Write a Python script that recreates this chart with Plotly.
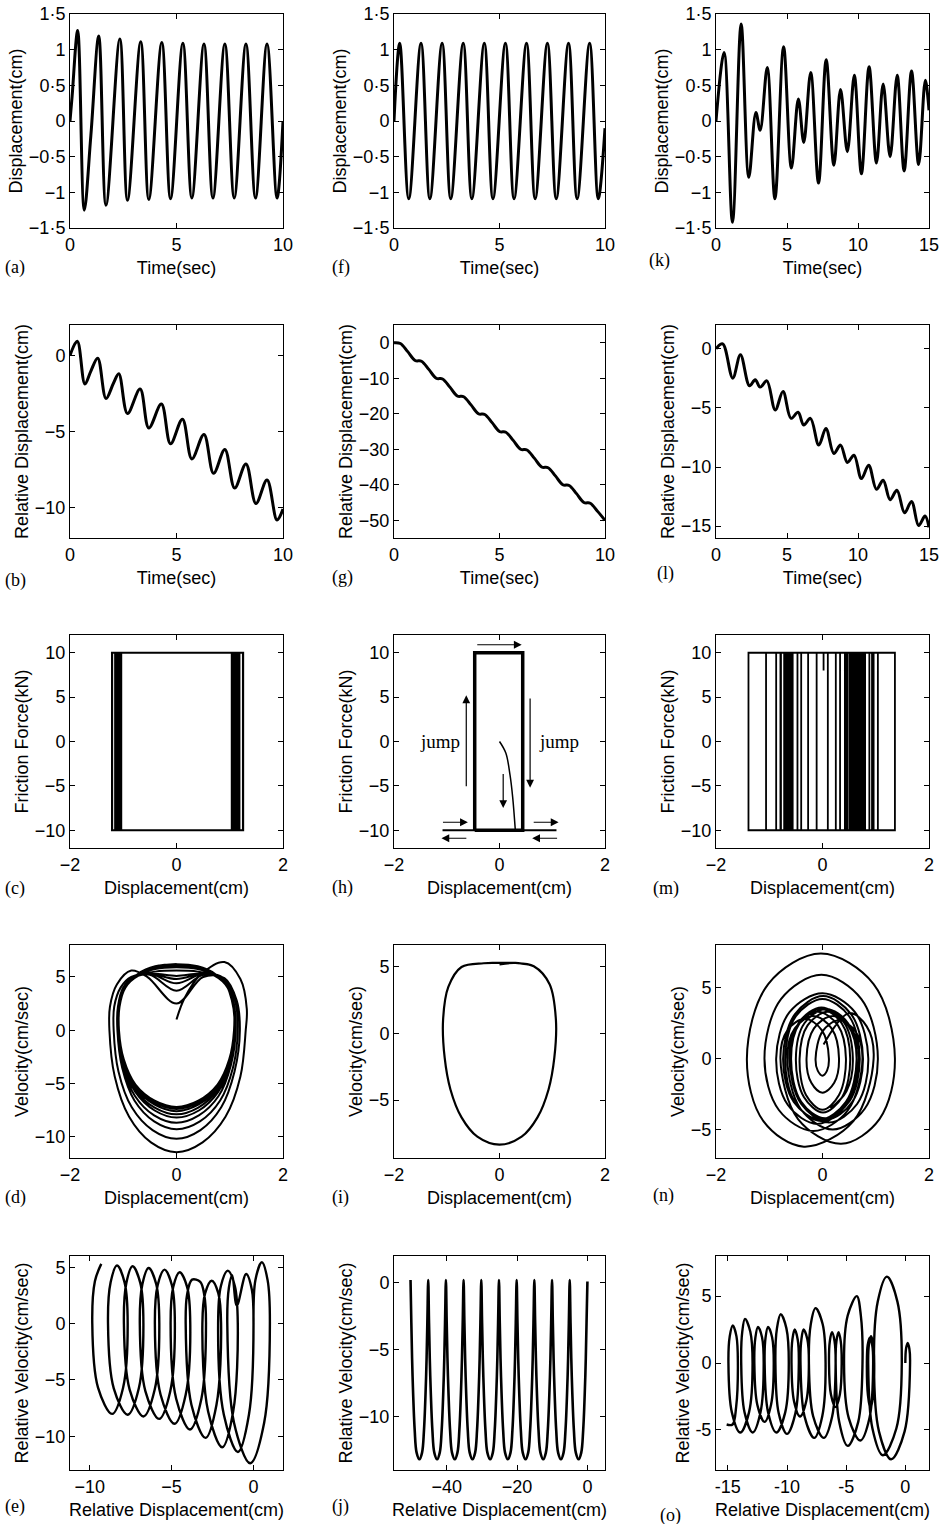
import plotly.graph_objects as go

W, H = 944, 1524
SANS = "Liberation Sans, Arial, Helvetica, sans-serif"
SERIF = "Liberation Serif, Times New Roman, serif"
FS = 18

# ---------------- data ----------------
# (a) displacement vs time (turning points)
a_t = [0, 0.1, 0.36, 0.67, 0.98, 1.35, 1.69, 2.34, 2.70, 3.32, 3.70, 4.31, 4.72, 5.30, 5.72,
       6.29, 6.71, 7.27, 7.71, 8.26, 8.71, 9.25, 9.72, 10.0]
a_x = [0, 0.35, 1.27, -1.25, -0.2, 1.19, -1.18, 1.15, -1.11, 1.11, -1.10, 1.10, -1.09, 1.09, -1.08,
       1.08, -1.08, 1.08, -1.08, 1.08, -1.08, 1.08, -1.08, 0.0]
# (f)
f_t = [0, 0.27, 0.70, 1.28, 1.70, 2.28, 2.69, 3.28, 3.69, 4.28, 4.69, 5.28, 5.69, 6.28, 6.69,
       7.27, 7.69, 8.27, 8.68, 9.27, 9.68, 10.0]
f_x = [0, 1.09, -1.09, 1.09, -1.09, 1.09, -1.09, 1.09, -1.09, 1.09, -1.09, 1.09, -1.09, 1.09, -1.09,
       1.09, -1.09, 1.09, -1.09, 1.09, -1.09, -0.1]
# (k)
k_t = [0, 0.57, 1.16, 1.77, 2.31, 2.81, 3.11, 3.61, 4.15, 4.76, 5.31, 5.80, 6.18, 6.67, 7.22, 7.76,
       8.30, 8.77, 9.25, 9.74, 10.24, 10.78, 11.30, 11.77, 12.26, 12.76, 13.25, 13.77, 14.27, 14.74, 15.0]
k_x = [0, 0.96, -1.42, 1.36, -0.79, 0.12, -0.13, 0.75, -1.09, 1.04, -0.66, 0.31, -0.30, 0.68, -0.87, 0.86,
       -0.62, 0.44, -0.43, 0.64, -0.74, 0.76, -0.59, 0.52, -0.50, 0.64, -0.70, 0.70, -0.61, 0.57, 0.15]
# (b) relative displacement
b_t = [0, 0.34, 0.70, 0.97, 1.30, 1.69, 2.04, 2.29, 2.70, 3.29, 3.70, 4.29, 4.72, 5.28, 5.72, 6.29,
       6.74, 7.27, 7.73, 8.26, 8.73, 9.25, 9.72, 10.0]
b_y = [0, 0.93, -1.88, -1.06, -0.18, -2.83, -1.83, -1.21, -3.82, -2.21, -4.77, -3.20, -5.81, -4.19,
       -6.80, -5.19, -7.75, -6.18, -8.72, -7.13, -9.73, -8.19, -10.82, -10.1]
# (g)
g_t = [0, 0.3, 0.65, 1.0, 1.3, 1.65, 2.0, 2.3, 2.65, 3.0, 3.3, 3.65, 4.0, 4.3, 4.65, 5.0, 5.3, 5.65,
       6.0, 6.3, 6.65, 7.0, 7.3, 7.65, 8.0, 8.3, 8.65, 9.0, 9.3, 9.65, 10.0]
g_y = [0, -0.2, -2.5, -5.0, -5.2, -7.5, -10.0, -10.2, -12.5, -15.0, -15.2, -17.5, -20.0, -20.2, -22.5,
       -25.0, -25.2, -27.5, -30.0, -30.2, -32.5, -35.0, -35.2, -37.5, -40.0, -40.2, -42.5, -45.0,
       -45.2, -47.5, -50.0]
# (l)
l_t = [0, 0.47, 1.18, 1.72, 2.36, 2.76, 3.11, 3.58, 4.17, 4.72, 5.28, 5.78, 6.18, 6.65, 7.24, 7.74,
       8.30, 8.77, 9.25, 9.72, 10.24, 10.75, 11.30, 11.77, 12.26, 12.74, 13.28, 13.77, 14.27, 14.72, 15.0]
l_y = [0, 0.40, -2.49, -0.51, -3.14, -2.63, -3.25, -2.72, -5.18, -3.62, -5.89, -5.38, -6.45, -5.89,
       -8.15, -6.74, -8.86, -8.15, -9.62, -9.00, -10.98, -9.85, -11.89, -11.12, -12.76, -11.97,
       -13.87, -12.91, -14.95, -14.15, -15.1]

# (c) friction force: displacement turning points
c_right = [1.25, 1.18, 1.14, 1.11, 1.09, 1.07, 1.06, 1.05, 1.05, 1.04]
c_left = [-1.21, -1.15, -1.11, -1.09, -1.07, -1.06, -1.05, -1.05, -1.04, -1.04]
c_force = [10, -10]
# (h)
h_rect_x = [-0.47, -0.47, 0.44, 0.44, -0.47]
h_rect_y = [-10, 10, 10, -10, -10]
h_base_x = [-1.08, 1.08]
h_base_y = [-10, -10]
h_init_x = [0.0, 0.12, 0.2, 0.25, 0.3]
h_init_y = [0.0, -1.3, -3.8, -6.3, -10.0]
# (m)
m_turns = [0.96, -1.39, 1.36, -0.79, 0.10, -0.11, 0.75, -1.06, 1.04, -0.66, 0.33, -0.27, 0.66, -0.87,
           0.88, -0.60, 0.47, -0.47, 0.60, -0.72, 0.80, -0.56, 0.54, -0.40, 0.72, -0.65, 0.93, -0.78,
           0.42, -0.62, 0.69, -0.70, 0.77, -0.58, 0.51, -0.68, 0.57, -0.64, 0.63, -0.60, 0.74, -0.69,
           0.45, -0.71, 0.70, -0.63, 0.61, -0.66, 0.25]
m_start = [0.02, 8.0]

# (d) velocity vs displacement
d_x = [0.0, 0.15, 0.45, 0.9, 1.2, 1.32, 1.3,
       1.2, 0.92, 0.49, 0.0, -0.48, -0.89, -1.16, -1.26,
       -1.25, -1.12, -0.85, -0.55, 0.0, 0.5, 0.9, 1.13, 1.19,
       1.09, 0.84, 0.45, 0.0, -0.45, -0.84, -1.09, -1.18,
       -1.17, -1.05, -0.85, -0.5, 0.0, 0.5, 0.88, 1.1, 1.15,
       1.06, 0.82, 0.44, 0.0, -0.42, -0.79, -1.02, -1.11,
       -1.1, -1.0, -0.8, -0.5, 0.0, 0.5, 0.85, 1.06, 1.11,
       1.02, 0.79, 0.42, 0.0, -0.42, -0.78, -1.01, -1.10,
       -1.09, -0.99, -0.8, -0.5, 0.0, 0.5, 0.85, 1.05, 1.10,
       1.01, 0.78, 0.42, 0.0, -0.41, -0.77, -1.0, -1.09,
       -1.08, -0.98, -0.78, -0.45, 0.0, 0.45, 0.85, 1.04, 1.09,
       1.0, 0.77, 0.41, 0.0, -0.41, -0.77, -0.99, -1.08,
       -1.07, -0.96, -0.72, -0.4, 0.0, 0.4, 0.72, 0.96, 1.07, 1.08,
       0.99, 0.77, 0.41, 0.0, -0.41, -0.77, -0.99, -1.08,
       -1.07, -0.96, -0.72, -0.4, 0.0, 0.4, 0.72, 0.96, 1.07, 1.08,
       0.99, 0.77, 0.41, 0.0, -0.41, -0.77, -0.99, -1.08,
       -1.07, -0.96, -0.72, -0.4, 0.0, 0.4, 0.72, 0.96, 1.07, 1.08,
       0.99, 0.77, 0.41, 0.0, -0.41, -0.77, -0.99, -1.08,
       -1.07, -0.96, -0.72, -0.4, 0.0, 0.4, 0.72, 0.96, 1.07, 1.08,
       0.99, 0.77, 0.41, 0.0, -0.41, -0.77, -0.99, -1.08,
       -1.07, -0.96, -0.72, -0.4, 0.0]
d_v = [1.0, 3.0, 5.2, 6.4, 4.8, 2.0, 0.0,
       -4.35, -8.13, -10.53, -11.45, -10.53, -8.13, -4.35, 0.0,
       2.2, 4.3, 5.6, 5.0, 2.5, 5.0, 4.9, 2.8, 0.0,
       -3.88, -7.24, -9.38, -10.2, -9.38, -7.24, -3.88, 0.0,
       2.2, 4.0, 5.0, 5.2, 3.7, 5.2, 4.9, 2.8, 0.0,
       -3.53, -6.6, -8.56, -9.3, -8.56, -6.6, -3.53, 0.0,
       2.2, 4.0, 5.0, 5.3, 4.4, 5.3, 4.9, 2.8, 0.0,
       -3.31, -6.18, -8.0, -8.7, -8.0, -6.18, -3.31, 0.0,
       2.2, 4.0, 5.0, 5.3, 4.8, 5.3, 4.9, 2.8, 0.0,
       -3.12, -5.82, -7.54, -8.2, -7.54, -5.82, -3.12, 0.0,
       2.2, 4.0, 5.0, 5.3, 5.1, 5.3, 4.9, 2.8, 0.0,
       -3.0, -5.61, -7.27, -7.9, -7.27, -5.61, -3.0, 0.0,
       2.2, 4.0, 5.1, 5.5, 5.6, 5.5, 5.1, 4.0, 2.2, 0.0,
       -2.89, -5.4, -6.99, -7.6, -6.99, -5.4, -2.89, 0.0,
       2.2, 4.0, 5.2, 5.75, 5.9, 5.75, 5.2, 4.0, 2.2, 0.0,
       -2.81, -5.25, -6.81, -7.4, -6.81, -5.25, -2.81, 0.0,
       2.2, 4.0, 5.25, 5.9, 6.1, 5.9, 5.25, 4.0, 2.2, 0.0,
       -2.77, -5.18, -6.72, -7.3, -6.72, -5.18, -2.77, 0.0,
       2.2, 4.0, 5.3, 6.0, 6.2, 6.0, 5.3, 4.0, 2.2, 0.0,
       -2.74, -5.11, -6.62, -7.2, -6.62, -5.11, -2.74, 0.0,
       2.2, 4.0, 5.3, 6.0, 6.2]
# (i)
i_x = [0.0, 0.3, 0.65, 0.95, 1.07, 1.04, 0.93, 0.72, 0.42, 0.0, -0.42, -0.72, -0.93, -1.04, -1.07,
       -0.97, -0.72, -0.3, 0.0, 0.3, 0.6]
i_v = [5.2, 5.3, 5.05, 3.7, 1.0, -1.8, -4.2, -6.3, -7.75, -8.35, -7.75, -6.3, -4.2, -1.8, 1.0,
       3.5, 5.0, 5.28, 5.3, 5.3, 5.15]
# (n)
n_x = [0.02, 0.5, 0.83, 0.96,
       0.58, -0.35, -1.11, -1.42,
       -1.02, -0.03, 0.96, 1.36,
       1.07, 0.35, -0.46, -0.79,
       -0.66, -0.33, -0.01, 0.12,
       0.085, 0.0, -0.09, -0.13,
       0.0, 0.31, 0.62, 0.75,
       0.48, -0.17, -0.82, -1.09,
       -0.78, -0.02, 0.73, 1.04,
       0.79, 0.19, -0.41, -0.66,
       -0.52, -0.17, 0.17, 0.31,
       0.22, 0.0, -0.21, -0.30,
       -0.16, 0.19, 0.54, 0.68,
       0.45, -0.1, -0.65, -0.87,
       -0.62, 0.0, 0.61, 0.86,
       0.65, 0.12, -0.40, -0.62,
       -0.47, -0.09, 0.29, 0.44,
       0.31, 0.0, -0.31, -0.43,
       -0.28, 0.1, 0.48, 0.64,
       0.44, -0.05, -0.54, -0.74,
       -0.52, 0.01, 0.54, 0.76,
       0.56, 0.08, -0.40, -0.59,
       -0.43, -0.03, 0.36, 0.52,
       0.37, 0.01, -0.35, -0.50,
       -0.34, 0.07, 0.48, 0.64,
       0.45, -0.03, -0.51, -0.70,
       -0.50, 0.0, 0.50, 0.70,
       0.51, 0.05, -0.42, -0.61,
       -0.44, -0.02, 0.40, 0.57,
       0.45, 0.15]
n_v = [1.0, 3.2, 2.27, 0.0,
       -4.4, -6.2, -4.4, 0.0,
       5.25, 7.4, 5.25, 0.0,
       -4.26, -6.0, -4.26, 0.0,
       1.99, 2.8, 1.99, 0.0,
       -0.85, -1.2, -0.85, 0.0,
       1.92, 2.7, 1.92, 0.0,
       -3.62, -5.1, -3.62, 0.0,
       4.19, 5.9, 4.19, 0.0,
       -3.55, -5.0, -3.55, 0.0,
       2.13, 3.0, 2.13, 0.0,
       -1.7, -2.4, -1.7, 0.0,
       2.13, 3.0, 2.13, 0.0,
       -3.27, -4.6, -3.27, 0.0,
       3.27, 4.6, 3.27, 0.0,
       -3.2, -4.5, -3.2, 0.0,
       2.34, 3.3, 2.34, 0.0,
       -2.56, -3.6, -2.56, 0.0,
       2.34, 3.3, 2.34, 0.0,
       -3.05, -4.3, -3.05, 0.0,
       3.12, 4.4, 3.12, 0.0,
       -3.05, -4.3, -3.05, 0.0,
       2.49, 3.5, 2.49, 0.0,
       -2.7, -3.8, -2.7, 0.0,
       2.49, 3.5, 2.49, 0.0,
       -3.12, -4.4, -3.12, 0.0,
       2.98, 4.2, 2.98, 0.0,
       -2.98, -4.2, -2.98, 0.0,
       2.56, 3.6, 2.56, 0.0,
       -2.3, -3.5]
# (e) relative velocity vs relative displacement
e_x = [0.0, 0.12, 0.51, 0.86, 1.0,
       0.65, -0.2, -1.19, -1.6,
       -1.5, -1.3, -1.02, -0.45, -0.1, 0.0,
       -0.28, -0.95, -1.81, -2.16,
       -1.99, -1.57, -1.14, -0.96,
       -1.24, -1.91, -2.77, -3.12,
       -2.95, -2.55, -2.15, -1.98,
       -2.26, -2.93, -3.79, -4.14,
       -4.05, -3.75, -3.25, -3.0, -2.90,
       -3.18, -3.88, -4.72, -5.06,
       -4.90, -4.51, -4.05, -3.86,
       -4.14, -4.82, -5.67, -6.02,
       -5.85, -5.43, -4.98, -4.80,
       -5.08, -5.76, -6.60, -6.94,
       -6.78, -6.40, -5.94, -5.75,
       -6.03, -6.72, -7.56, -7.91,
       -7.76, -7.38, -6.91, -6.72,
       -7.0, -7.68, -8.53, -8.88,
       -8.72, -8.33, -7.87, -7.68,
       -7.96, -8.63, -9.49, -9.84,
       -9.68, -9.29]
e_v = [0.0, 3.9, 5.44, 3.86, 0.0,
       -8.8, -12.4, -8.8, 0.0,
       3.2, 4.3, 1.6, 4.4, 3.0, 0.0,
       -8.1, -11.4, -8.1, 0.0,
       3.34, 4.7, 3.34, 0.0,
       -7.8, -10.98, -7.8, 0.0,
       2.7, 3.8, 2.7, 0.0,
       -7.2, -10.15, -7.2, 0.0,
       2.6, 3.9, 3.7, 2.5, 0.0,
       -6.67, -9.4, -6.67, 0.0,
       3.24, 4.56, 3.24, 0.0,
       -6.32, -8.9, -6.32, 0.0,
       3.4, 4.79, 3.4, 0.0,
       -6.0, -8.46, -6.0, 0.0,
       3.51, 4.94, 3.51, 0.0,
       -5.86, -8.25, -5.86, 0.0,
       3.61, 5.09, 3.61, 0.0,
       -5.75, -8.1, -5.75, 0.0,
       3.66, 5.15, 3.66, 0.0,
       -5.69, -8.02, -5.69, 0.0,
       3.76, 5.3]
# (j)
j_x = [0.0,
       -0.25, -0.6, -1.2, -1.75, -2.5, -3.3, -3.85, -4.45, -4.8, -5.03,
       -5.28, -5.63, -6.23, -6.78, -7.53, -8.33, -8.88, -9.48, -9.83, -10.06,
       -10.31, -10.66, -11.26, -11.81, -12.56, -13.36, -13.91, -14.51, -14.86, -15.09,
       -15.34, -15.69, -16.29, -16.84, -17.59, -18.39, -18.94, -19.54, -19.89, -20.12,
       -20.37, -20.72, -21.32, -21.87, -22.62, -23.42, -23.97, -24.57, -24.92, -25.15,
       -25.4, -25.75, -26.35, -26.9, -27.65, -28.45, -29.0, -29.6, -29.95, -30.18,
       -30.43, -30.78, -31.38, -31.93, -32.68, -33.48, -34.03, -34.63, -34.98, -35.21,
       -35.46, -35.81, -36.41, -36.96, -37.71, -38.51, -39.06, -39.66, -40.01, -40.24,
       -40.49, -40.84, -41.44, -41.99, -42.74, -43.54, -44.09, -44.69, -45.04, -45.27,
       -45.52, -45.87, -46.47, -47.02, -47.77, -48.57, -49.12, -49.72, -50.07, -50.3]
j_loop_v = [-3, -7, -11, -12.7, -13.2, -12.7, -11, -7, -3, 0.2]
j_v = [0.1] + j_loop_v * 10
# (o)
o_x = [0.0, 0.06, 0.2, 0.34, 0.40,
       -0.06, -1.2, -2.23, -2.65,
       -2.33, -1.56, -0.67, -0.3,
       -0.76, -1.9, -2.78, -3.14,
       -3.07, -2.9, -2.71, -2.63,
       -2.72, -2.95, -3.16, -3.25,
       -3.18, -3.0, -2.80, -2.72,
       -3.03, -3.8, -4.78, -5.18,
       -4.87, -4.1, -3.76, -3.62,
       -3.98, -4.87, -5.59, -5.89,
       -5.82, -5.65, -5.46, -5.38,
       -5.53, -5.9, -6.29, -6.45,
       -6.38, -6.2, -5.98, -5.89,
       -6.18, -6.9, -7.79, -8.15,
       -7.99, -7.59, -6.99, -6.74,
       -7.02, -7.7, -8.52, -8.86,
       -8.78, -8.6, -8.28, -8.15,
       -8.37, -8.9, -9.41, -9.62,
       -9.54, -9.35, -9.10, -9.0,
       -9.29, -10.0, -10.70, -10.98,
       -10.85, -10.53, -10.05, -9.85,
       -10.15, -10.9, -11.60, -11.89,
       -11.81, -11.6, -11.26, -11.12,
       -11.35, -11.9, -12.51, -12.76,
       -12.67, -12.45, -12.11, -11.97,
       -12.24, -12.9, -13.59, -13.87,
       -13.78, -13.55, -13.10, -12.91,
       -13.21, -13.95, -14.66, -14.95,
       -14.84, -14.58, -14.27, -14.15,
       -14.3, -14.6, -15.1]
o_v = [0.0, 1.07, 1.5, 1.07, 0.0,
       -5.11, -7.2, -5.11, 0.0,
       4.59, 6.46, 4.59, 0.0,
       -4.9, -6.9, -4.9, 0.0,
       1.42, 2.0, 1.42, 0.0,
       -2.41, -3.4, -2.41, 0.0,
       1.35, 1.9, 1.35, 0.0,
       -4.12, -5.8, -4.12, 0.0,
       3.55, 5.0, 3.55, 0.0,
       -4.4, -6.2, -4.4, 0.0,
       1.63, 2.3, 1.63, 0.0,
       -2.34, -3.3, -2.34, 0.0,
       1.63, 2.3, 1.63, 0.0,
       -3.98, -5.6, -3.98, 0.0,
       2.91, 4.1, 2.91, 0.0,
       -3.98, -5.6, -3.98, 0.0,
       1.78, 2.5, 1.78, 0.0,
       -2.84, -4.0, -2.84, 0.0,
       1.78, 2.5, 1.78, 0.0,
       -3.76, -5.3, -3.76, 0.0,
       2.59, 3.65, 2.59, 0.0,
       -3.69, -5.2, -3.69, 0.0,
       1.92, 2.7, 1.92, 0.0,
       -3.12, -4.4, -3.12, 0.0,
       1.92, 2.7, 1.92, 0.0,
       -3.69, -5.2, -3.69, 0.0,
       2.34, 3.3, 2.34, 0.0,
       -3.69, -5.2, -3.69, 0.0,
       1.99, 2.8, 1.99, 0.0,
       -3.3, -4.6, -4.6]

for p, q in [(a_t, a_x), (f_t, f_x), (k_t, k_x), (b_t, b_y), (g_t, g_y), (l_t, l_y), (d_x, d_v),
             (i_x, i_v), (n_x, n_v), (e_x, e_v), (j_x, j_v), (o_x, o_v)]:
    assert len(p) == len(q), (len(p), len(q))

# ---------------- layout helpers ----------------
col_px = [(70, 283), (394, 605), (716, 929)]
row_px = [(14, 228), (325, 538), (635, 848), (945, 1158), (1256, 1470)]

fig = go.Figure()


def ax_names(n):
    return ("x" if n == 1 else f"x{n}"), ("y" if n == 1 else f"y{n}")


def add_line(n, x, y, width=3.0, shape="spline", smoothing=1.0):
    xa, ya = ax_names(n)
    fig.add_trace(go.Scatter(x=x, y=y, mode="lines", xaxis=xa, yaxis=ya, showlegend=False,
                             hoverinfo="skip",
                             line=dict(color="black", width=width, shape=shape,
                                       smoothing=smoothing if shape == "spline" else None)))


def lab(v, minus="\u2212"):
    s = ("%g" % abs(v)).replace(".", "\u00b7")
    return (minus + s) if v < 0 else s


def set_axes(n, r, c, xr, yr, xt, yt, xtitle, ytitle, minus="\u2212"):
    l, rr = col_px[c]
    t, b = row_px[r]
    common = dict(showline=True, linecolor="black", linewidth=1, mirror="allticks", ticks="inside",
                  ticklen=5, tickwidth=1, tickcolor="black", showgrid=False, zeroline=False,
                  automargin=False,
                  tickfont=dict(family=SANS, size=FS, color="black"), fixedrange=True)
    xa, ya = ax_names(n)
    fig.layout[("xaxis" if n == 1 else f"xaxis{n}")] = dict(
        common, domain=[l / W, rr / W], range=xr, anchor=ya,
        tickvals=xt, ticktext=[lab(v, minus) for v in xt],
        title=dict(text=xtitle, font=dict(family=SANS, size=FS, color="black"), standoff=7))
    fig.layout[("yaxis" if n == 1 else f"yaxis{n}")] = dict(
        common, domain=[1 - b / H, 1 - t / H], range=yr, anchor=xa,
        tickvals=yt, ticktext=[lab(v, minus) for v in yt],
        title=dict(text=ytitle, font=dict(family=SANS, size=FS, color="black"), standoff=1))


disp_ticks = [-1.5, -1, -0.5, 0, 0.5, 1, 1.5]

# row 1
set_axes(1, 0, 0, [0, 10], [-1.5, 1.5], [0, 5, 10], disp_ticks, "Time(sec)", "Displacement(cm)")
set_axes(2, 0, 1, [0, 10], [-1.5, 1.5], [0, 5, 10], disp_ticks, "Time(sec)", "Displacement(cm)")
set_axes(3, 0, 2, [0, 15], [-1.5, 1.5], [0, 5, 10, 15], disp_ticks, "Time(sec)", "Displacement(cm)")
add_line(1, a_t, a_x)
add_line(2, f_t, f_x)
add_line(3, k_t, k_x)

# row 2
set_axes(4, 1, 0, [0, 10], [-12, 2], [0, 5, 10], [-10, -5, 0], "Time(sec)", "Relative Displacement(cm)")
set_axes(5, 1, 1, [0, 10], [-55, 5], [0, 5, 10], [-50, -40, -30, -20, -10, 0], "Time(sec)",
         "Relative Displacement(cm)")
set_axes(6, 1, 2, [0, 15], [-16, 2], [0, 5, 10, 15], [-15, -10, -5, 0], "Time(sec)",
         "Relative Displacement(cm)")
add_line(4, b_t, b_y)
add_line(5, g_t, g_y)
add_line(6, l_t, l_y)

# row 3
ff_ticks = [-10, -5, 0, 5, 10]
set_axes(7, 2, 0, [-2, 2], [-12, 12], [-2, 0, 2], ff_ticks, "Displacement(cm)", "Friction Force(kN)")
set_axes(8, 2, 1, [-2, 2], [-12, 12], [-2, 0, 2], ff_ticks, "Displacement(cm)", "Friction Force(kN)")
set_axes(9, 2, 2, [-2, 2], [-12, 12], [-2, 0, 2], ff_ticks, "Displacement(cm)", "Friction Force(kN)")

cx, cy = [0.0], [c_force[0]]
for i in range(len(c_right)):
    cx += [c_right[i], c_right[i]]
    cy += [c_force[0], c_force[1]]
    if i < len(c_left):
        cx += [c_left[i], c_left[i]]
        cy += [c_force[1], c_force[0]]
add_line(7, cx, cy, width=2.2, shape="linear")

add_line(8, h_base_x, h_base_y, width=2.0, shape="linear")
add_line(8, h_rect_x, h_rect_y, width=3.5, shape="linear")
add_line(8, h_init_x, h_init_y, width=1.5, shape="spline")

mx, my = [m_start[0], m_start[0]], [m_start[1], 10]
for v in m_turns:
    mx += [v, v]
    my += ([10, -10] if v > 0 else [-10, 10])
add_line(9, mx, my, width=1.8, shape="linear")

# (h) arrows and labels
arrows = [((0.42, 10.9), (-0.45, 10.9)), ((-0.63, 5.2), (-0.63, -5.2)), ((0.58, -5.2), (0.58, 5.0)),
          ((0.07, -7.5), (0.07, -3.5)), ((-0.6, -9.1), (-1.1, -9.1)), ((-1.1, -10.9), (-0.6, -10.9)),
          ((1.12, -9.1), (0.62, -9.1)), ((0.62, -10.9), (1.12, -10.9))]
for (hx, hy), (tx, ty) in arrows:
    fig.add_annotation(x=hx, y=hy, ax=tx, ay=ty, xref="x8", yref="y8", axref="x8", ayref="y8",
                       showarrow=True, arrowhead=2, arrowsize=1.3, arrowwidth=1.2, arrowcolor="black",
                       text="")
for xx in (-1.13, 1.13):
    fig.add_annotation(x=xx, y=0, xref="x8", yref="y8", text="jump", showarrow=False,
                       font=dict(family=SERIF, size=19, color="black"))

# row 4
set_axes(10, 3, 0, [-2, 2], [-12, 8], [-2, 0, 2], [-10, -5, 0, 5], "Displacement(cm)", "Velocity(cm/sec)")
set_axes(11, 3, 1, [-2, 2], [-9.35, 6.65], [-2, 0, 2], [-5, 0, 5], "Displacement(cm)", "Velocity(cm/sec)")
set_axes(12, 3, 2, [-2, 2], [-7, 8], [-2, 0, 2], [-5, 0, 5], "Displacement(cm)", "Velocity(cm/sec)")
add_line(10, d_x, d_v, width=2.0)
add_line(11, i_x, i_v, width=2.2)
add_line(12, n_x, n_v, width=2.0)

# row 5
set_axes(13, 4, 0, [-11.2, 1.8], [-13, 6], [-10, -5, 0], [-10, -5, 0, 5], "Relative Displacement(cm)",
         "Relative Velocity(cm/sec)")
set_axes(14, 4, 1, [-55, 5], [-14, 2], [-40, -20, 0], [-10, -5, 0], "Relative Displacement(cm)",
         "Relative Velocity(cm/sec)")
set_axes(15, 4, 2, [-16, 2], [-8, 8], [-15, -10, -5, 0], [-5, 0, 5], "Relative Displacement(cm)",
         "Relative Velocity(cm/sec)", minus="-")
add_line(13, e_x, e_v, width=2.4)
add_line(14, j_x, j_v, width=2.6)
add_line(15, o_x, o_v, width=2.4)

# panel letters
letters = [("(a)", 3, 267), ("(f)", 330, 267), ("(k)", 647, 260),
           ("(b)", 3, 580), ("(g)", 330, 578), ("(l)", 655, 573),
           ("(c)", 3, 888), ("(h)", 330, 887), ("(m)", 651, 888),
           ("(d)", 3, 1197), ("(i)", 330, 1197), ("(n)", 651, 1195),
           ("(e)", 3, 1506), ("(j)", 330, 1506), ("(o)", 658, 1515)]
for txt, px, py in letters:
    fig.add_annotation(x=px / W, y=1 - py / H, xref="paper", yref="paper", text=txt, showarrow=False,
                       xanchor="left", yanchor="middle", font=dict(family=SERIF, size=18, color="black"))

fig.update_layout(width=W, height=H, margin=dict(l=0, r=0, t=0, b=0), paper_bgcolor="white",
                  plot_bgcolor="white", showlegend=False)
fig.write_html("out.html", config={"displayModeBar": False, "staticPlot": True},
               post_script="document.body.style.margin='0px';document.body.style.overflow='hidden';")
